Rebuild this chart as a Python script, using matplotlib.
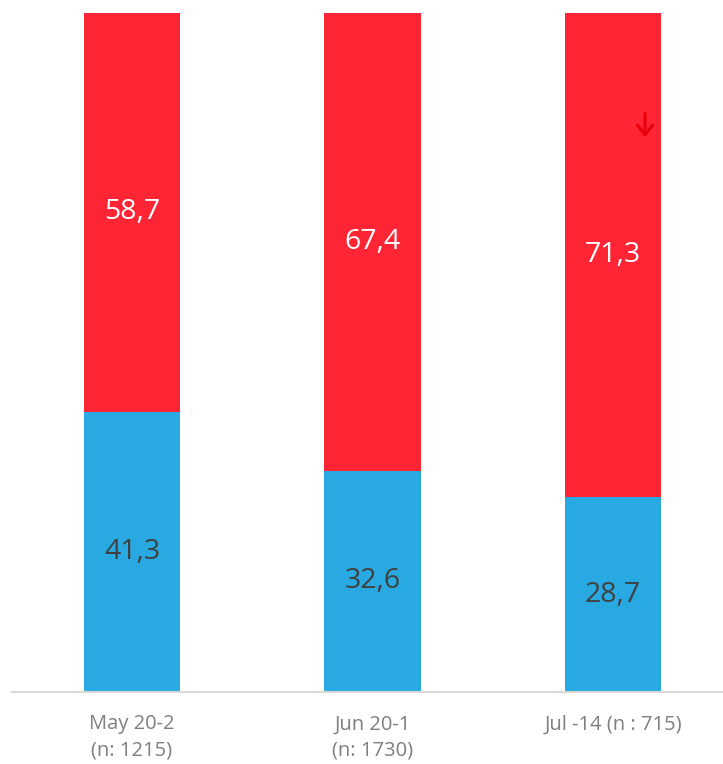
import matplotlib.pyplot as plt

# Datos del gráfico
categorias = ['May 20-2\n(n: 1215)', 'Jun 20-1\n(n: 1730)', 'Jul -14 (n : 715)']
azul = [41.3, 32.6, 28.7]
rojo = [58.7, 67.4, 71.3]

plt.rcParams['font.family'] = ['Open Sans', 'DejaVu Sans']

fig = plt.figure(figsize=(7.23, 7.64), dpi=100)
ax = fig.add_axes([12 / 723, 72 / 764, 711 / 723, 679 / 764])

x = list(range(len(categorias)))
ax.bar(x, azul, width=0.4, color='#29A9E1')
ax.bar(x, rojo, width=0.4, bottom=azul, color='#FF2535')

# Etiquetas de valores dentro de cada segmento
for i in x:
    ax.text(i, azul[i] / 2, f'{azul[i]:.1f}'.replace('.', ','), ha='center', va='center',
            fontsize=20.5, color='#404040')
    ax.text(i, azul[i] + rojo[i] / 2, f'{rojo[i]:.1f}'.replace('.', ','), ha='center', va='center',
            fontsize=20.5, color='white')

# Flecha de tendencia en la última barra
ax.annotate('', xy=(2.133, 81.3), xytext=(2.133, 85.6),
            arrowprops=dict(arrowstyle='->,head_length=0.35,head_width=0.28',
                            color='#E8000B', lw=2.2, mutation_scale=20))

ax.set_xlim(-0.499, 2.457)
ax.set_ylim(0, 100)
ax.set_xticks(x)
ax.set_xticklabels(categorias, fontsize=14.5, color='#7F7F7F', linespacing=1.45)
ax.tick_params(axis='x', length=0, pad=16)
ax.set_yticks([])
for s in ['top', 'left', 'right']:
    ax.spines[s].set_visible(False)
ax.spines['bottom'].set_color('#D9D9D9')
ax.spines['bottom'].set_linewidth(1.5)

plt.savefig('out.png', dpi=100)
